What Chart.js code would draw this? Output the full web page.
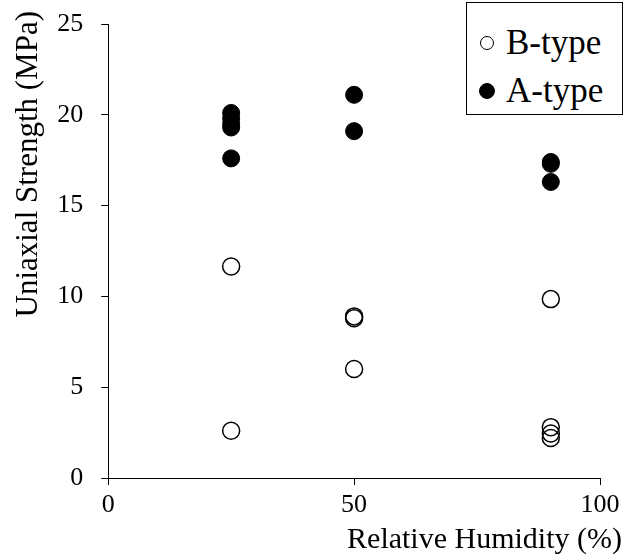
<!DOCTYPE html>
<html lang="en">
<head>
    <meta charset="UTF-8">
    <title>Uniaxial Strength vs Relative Humidity</title>
    <style>
        body {
            margin: 0;
            background: #fff;
        }

        #wrap {
            position: relative;
            width: 630px;
            height: 558px;
        }

        #legend {
            position: absolute;
            left: 466px;
            top: 2px;
            width: 155px;
            height: 111px;
            border: 1px solid #000;
            font-family: "Liberation Serif", serif;
            font-size: 35px;
            color: #000;
            background: #fff;
        }

        .item {
            position: absolute;
            left: 13px;
            display: flex;
            align-items: center;
            height: 40px;
        }

        .dot {
            width: 14px;
            height: 14px;
            border-radius: 50%;
            box-sizing: border-box;
            border: 1.5px solid #000;
            margin-right: 12px;
        }

        .dot.filled {
            background: #000;
            width: 16px;
            height: 16px;
            margin-right: 11px;
            margin-left: -1px;
        }
    </style>
</head>
<body>
    <div id="wrap">
        <canvas id="chart" width="630" height="558"></canvas>
        <div id="legend">
            <div class="item" style="top: 20px;"><span class="dot"></span>B-type</div>
            <div class="item" style="top: 68px;"><span class="dot filled"></span>A-type</div>
        </div>
    </div>

    <script src="https://cdn.jsdelivr.net/npm/chart.js"></script>
    <script>
        // values
        const humidityB = [25, 25, 50, 50, 50, 90, 90, 90, 90];
        const strengthB = [11.65, 2.6, 8.9, 8.8, 6.0, 9.85, 2.8, 2.45, 2.2];

        const humidityA = [25, 25, 25, 25, 25, 50, 50, 90, 90, 90];
        const strengthA = [20.1, 19.8, 19.5, 19.3, 17.6, 21.1, 19.1, 17.4, 17.3, 16.3];

        const xTicks = [0, 50, 100];
        const yTicks = [0, 5, 10, 15, 20, 25];

        const serif = 'Liberation Serif';

        function pts(xs, ys) {
            return xs.map((x, i) => ({ x: x, y: ys[i] }));
        }

        const axisGrid = {
            drawOnChartArea: false,
            drawTicks: true,
            tickLength: 7,
            color: '#000'
        };

        new Chart(document.getElementById('chart'), {
            type: 'scatter',
            data: {
                datasets: [
                    {
                        label: 'B-type',
                        data: pts(humidityB, strengthB),
                        pointRadius: 8.5,
                        pointHoverRadius: 8.5,
                        backgroundColor: 'rgba(0,0,0,0)',
                        borderColor: '#000',
                        borderWidth: 1.5
                    },
                    {
                        label: 'A-type',
                        data: pts(humidityA, strengthA),
                        pointRadius: 8.5,
                        pointHoverRadius: 8.5,
                        backgroundColor: '#000',
                        borderColor: '#000',
                        borderWidth: 1
                    }
                ]
            },
            options: {
                responsive: false,
                animation: false,
                layout: {
                    padding: { left: 0, right: 8, top: 11, bottom: 0 }
                },
                plugins: {
                    legend: { display: false },
                    tooltip: { enabled: false },
                    title: {
                        display: true,
                        position: 'bottom',
                        align: 'end',
                        text: 'Relative Humidity (%)',
                        color: '#000',
                        font: { family: serif, size: 30, weight: 'normal' },
                        padding: 0
                    },
                    subtitle: {
                        display: true,
                        position: 'left',
                        align: 'end',
                        text: 'Uniaxial Strength (MPa)',
                        color: '#000',
                        font: { family: serif, size: 31, weight: 'normal' },
                        padding: { top: 10, bottom: 0 }
                    }
                },
                scales: {
                    x: {
                        type: 'linear',
                        min: 0,
                        max: 100,
                        afterBuildTicks: s => { s.ticks = xTicks.map(v => ({ value: v })); },
                        afterFit: s => { s.height = 44; s.paddingRight = 30; },
                        ticks: {
                            color: '#000',
                            padding: 5,
                            maxRotation: 0,
                            font: { family: serif, size: 26 }
                        },
                        grid: axisGrid,
                        border: { display: true, color: '#000', width: 1 }
                    },
                    y: {
                        type: 'linear',
                        min: 0,
                        max: 25,
                        afterBuildTicks: s => { s.ticks = yTicks.map(v => ({ value: v })); },
                        afterFit: s => { s.width = 61; s.paddingTop = 24; },
                        ticks: {
                            color: '#000',
                            padding: 18,
                            font: { family: serif, size: 26 }
                        },
                        grid: axisGrid,
                        border: { display: true, color: '#000', width: 1 }
                    }
                }
            }
        });
    </script>
</body>
</html>
